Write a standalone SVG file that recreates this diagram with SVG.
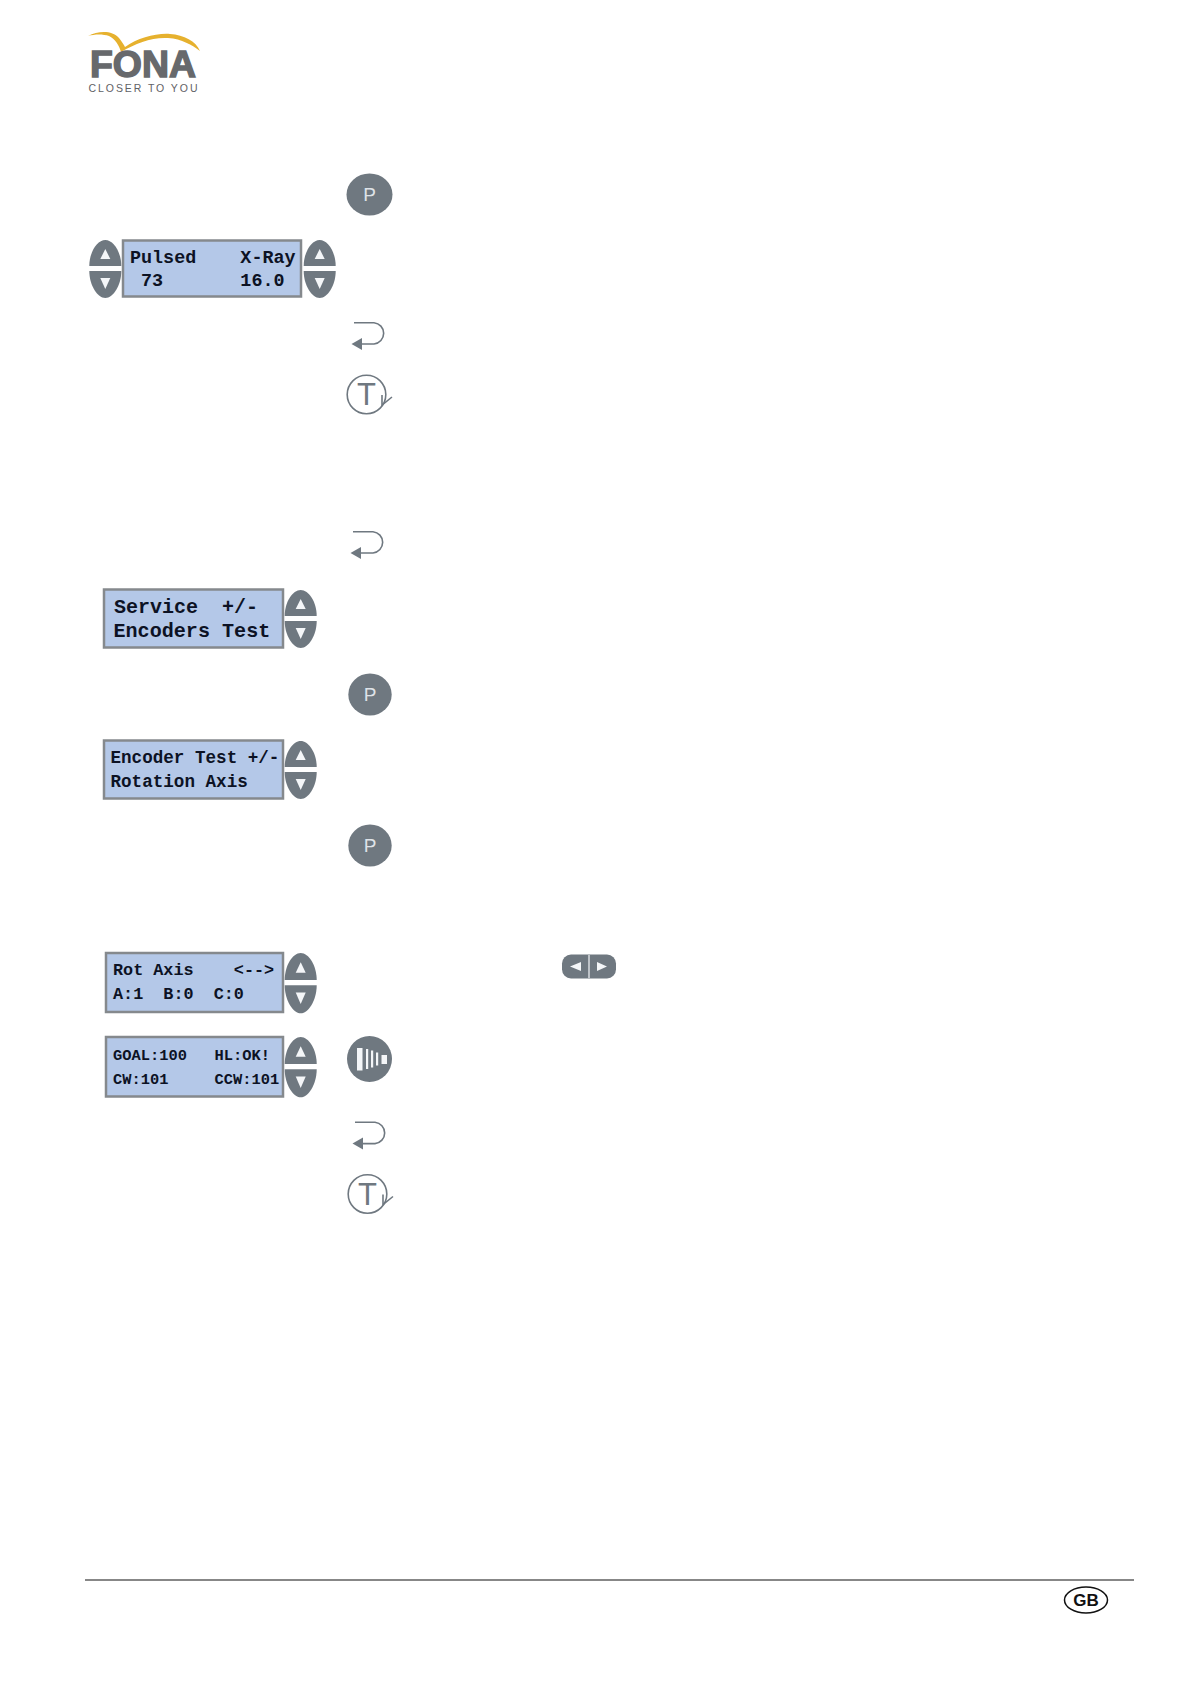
<svg xmlns="http://www.w3.org/2000/svg" width="1191" height="1684" viewBox="0 0 1191 1684">
<style>
.lcd{fill:#b4c8e8;stroke:#85898d;stroke-width:2.5}
.lt{font-family:"Liberation Mono",monospace;font-weight:700;fill:#0c1224;white-space:pre}
.b{fill:#6f7880}
.w{fill:#f4f6f8}
.p{font-family:"Liberation Sans",Arial,sans-serif;font-size:19px;fill:#dfe3e8;text-anchor:middle}
.ln{fill:none;stroke:#6f7880;stroke-width:1.6}
.t{font-family:"Liberation Sans",Arial,sans-serif;font-size:31px;fill:#6f7880;text-anchor:middle}
</style>
<defs>
<g id="updown">
<path class="b" d="M-16,26 C-16,12 -8,0 0,0 C8,0 16,12 16,26 Z"/>
<path class="w" d="M0,9 L5,19 L-5,19 Z"/>
<path class="b" d="M-16,31 C-16,45 -8,58 0,58 C8,58 16,45 16,31 Z"/>
<path class="w" d="M0,49 L5,38 L-5,38 Z"/>
</g>
<g id="ret">
<path class="ln" d="M354,322.7 H374 A10.7,10.7 0 0 1 374,344 H360"/>
<path class="b" d="M351.5,344 L362,338 L362,350 Z"/>
</g>
<g id="tkey">
<circle class="ln" cx="366.5" cy="394.5" r="19.3"/>
<text class="t" x="366.5" y="405">T</text>
<path class="ln" d="M382,395 V405 L392,397"/>
</g>
</defs>

<g id="logo">
<path fill="#e6b12e" d="M88,36 C98,31 112,30 119,38 C122,42 124,45 125,47 C138,38 156,33 170,34 C184,35 196,41 200,51 C192,45 182,39 168,38 C152,37 136,43 121,52 C119,45 115,39 109,36 C103,34 95,34 88,36 Z"/>
<text x="90" y="77" font-family="'Liberation Sans',Arial,sans-serif" font-weight="700" font-size="36" fill="#67696c" stroke="#67696c" stroke-width="1.4" textLength="106" lengthAdjust="spacingAndGlyphs">FONA</text>
<text x="88.5" y="91.5" font-family="'Liberation Sans',Arial,sans-serif" font-size="10.5" fill="#5f6266" textLength="109">CLOSER TO YOU</text>
</g>

<g id="key-p1"><ellipse class="b" cx="369.5" cy="194.5" rx="23" ry="21"/><text class="p" x="369.5" y="201">P</text></g>

<g id="lcd-pulsed">
<use href="#updown" x="105.3" y="240"/>
<rect class="lcd" x="123" y="240.5" width="178" height="56"/>
<text class="lt" font-size="18.4" x="130" y="263">Pulsed    X-Ray</text>
<text class="lt" font-size="18.4" x="130" y="286"> 73       16.0</text>
<use href="#updown" x="319.7" y="240"/>
</g>

<g id="key-ret1"><use href="#ret"/></g>
<g id="key-t1"><use href="#tkey"/></g>
<g id="key-ret2"><use href="#ret" x="-1" y="209"/></g>

<g id="lcd-service">
<rect class="lcd" x="104" y="589.5" width="179" height="58"/>
<text class="lt" font-size="20" x="114" y="612.5">Service  +/-</text>
<text class="lt" font-size="20.1" x="113.5" y="636.5">Encoders Test</text>
<use href="#updown" x="300.7" y="590"/>
</g>

<g id="key-p2"><ellipse class="b" cx="370" cy="694.5" rx="21.7" ry="21"/><text class="p" x="370" y="701">P</text></g>

<g id="lcd-encoder">
<rect class="lcd" x="104" y="740.5" width="179" height="58"/>
<text class="lt" font-size="17.6" x="110.5" y="763">Encoder Test +/-</text>
<text class="lt" font-size="17.6" x="110.5" y="787">Rotation Axis</text>
<use href="#updown" x="300.7" y="741"/>
</g>

<g id="key-p3"><ellipse class="b" cx="370" cy="845.5" rx="21.7" ry="21"/><text class="p" x="370" y="852">P</text></g>

<g id="lcd-rot">
<rect class="lcd" x="106" y="953" width="177" height="59"/>
<text class="lt" font-size="16.8" x="113" y="975">Rot Axis    &lt;--&gt;</text>
<text class="lt" font-size="16.8" x="113" y="999">A:1  B:0  C:0</text>
<use href="#updown" transform="translate(300.7,953) scale(1,1.04)"/>
</g>

<g id="key-lr">
<rect class="b" x="562" y="954.5" width="54" height="24" rx="9"/>
<path class="w" d="M570,966.5 L581,962 V971 Z M607,966.5 L597,962 V971 Z"/>
<path d="M589,955 V978" stroke="#f4f6f8" stroke-width="1.2"/>
</g>

<g id="lcd-goal">
<rect class="lcd" x="106" y="1037" width="177" height="59.5"/>
<text class="lt" font-size="15.4" x="113" y="1060">GOAL:100   HL:OK!</text>
<text class="lt" font-size="15.4" x="113" y="1084">CW:101     CCW:101</text>
<use href="#updown" transform="translate(300.7,1037) scale(1,1.04)"/>
</g>

<g id="key-wave">
<ellipse class="b" cx="369.5" cy="1059" rx="22.5" ry="23"/>
<rect class="w" x="357" y="1048" width="5.5" height="22.5"/>
<rect class="w" x="366" y="1049" width="2.2" height="20"/>
<rect class="w" x="371" y="1050.5" width="2.2" height="17"/>
<rect class="w" x="376" y="1052.5" width="2.2" height="13"/>
<rect class="w" x="381.5" y="1055" width="5.5" height="9"/>
</g>

<g id="key-ret3"><use href="#ret" x="1" y="799.6"/></g>
<g id="key-t2"><use href="#tkey" x="1" y="799.5"/></g>

<g id="footer">
<path d="M85,1580 H1134" stroke="#111" stroke-width="1.2"/>
<ellipse cx="1086" cy="1600" rx="21.5" ry="13" fill="#fff" stroke="#111" stroke-width="1.5"/>
<text x="1086" y="1606" font-family="'Liberation Sans',Arial,sans-serif" font-weight="700" font-size="17" fill="#111" text-anchor="middle">GB</text>
</g>
<g id="connectors"/>
</svg>
